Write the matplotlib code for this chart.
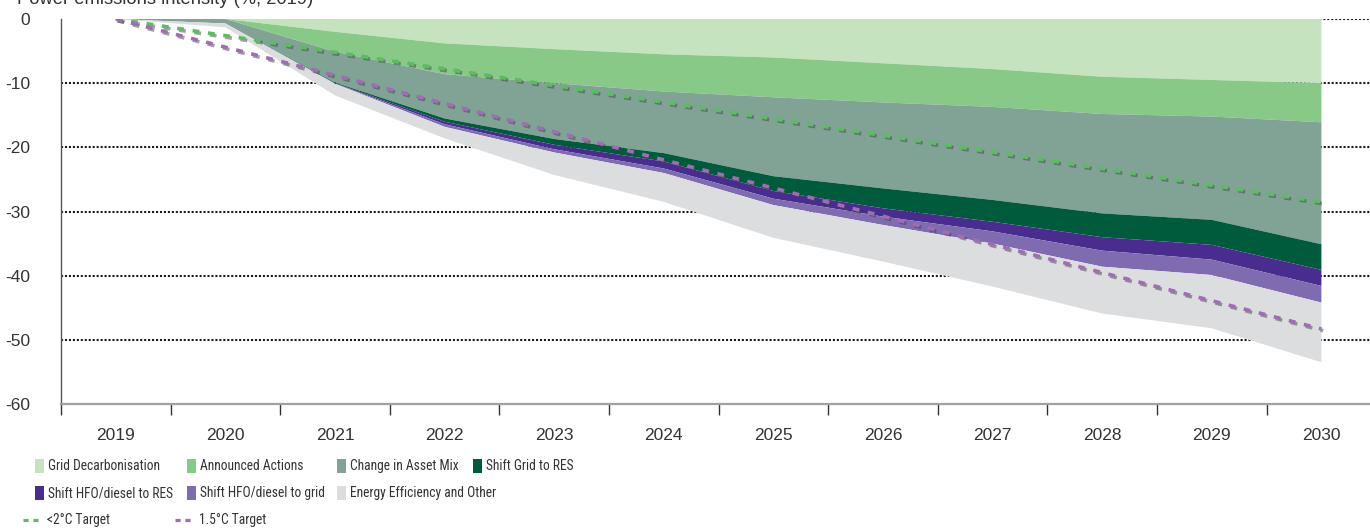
import matplotlib
matplotlib.use("Agg")
import matplotlib.pyplot as plt
import matplotlib.patheffects as pe
from matplotlib import font_manager
from matplotlib.patches import Rectangle
from matplotlib.lines import Line2D

# ---------------- data ----------------
years = ["2019", "2020", "2021", "2022", "2023", "2024", "2025",
         "2026", "2027", "2028", "2029", "2030"]

grid_decarbonisation = [0, 0, -2.0, -3.8, -4.7, -5.5, -6.0, -6.9, -7.8, -9.0, -9.5, -10.0]
announced_actions    = [0, 0, -3.1, -4.8, -5.3, -5.8, -6.2, -6.1, -5.9, -5.8, -5.7, -6.1]
change_asset_mix     = [0, -0.7, -4.8, -6.9, -8.7, -9.6, -12.3, -13.4, -14.5, -15.5, -16.1, -19.0]
shift_grid_res       = [0, 0, -0.1, -0.5, -0.9, -1.3, -2.3, -3.1, -3.4, -3.7, -3.9, -4.0]
shift_hfo_res        = [0, 0, -0.05, -0.4, -0.7, -1.1, -1.2, -1.3, -1.5, -2.1, -2.3, -2.5]
shift_hfo_grid       = [0, 0, -0.05, -0.4, -0.5, -0.7, -1.0, -1.3, -1.9, -2.5, -2.4, -2.6]
energy_efficiency    = [0, -0.6, -1.8, -1.8, -3.5, -4.5, -5.1, -5.7, -6.7, -7.3, -8.3, -9.3]

target_years = ["2019", "2030"]
target_2c  = [0, -28.5]
target_15c = [0, -48.3]

series_labels = ["Grid Decarbonisation", "Announced Actions", "Change in Asset Mix",
                 "Shift Grid to RES", "Shift HFO/diesel to RES",
                 "Shift HFO/diesel to grid", "Energy Efficiency and Other"]
series_colors = ["#c5e3bf", "#88c987", "#80a396", "#005a3c", "#482d8f", "#7f6bb0", "#dcdddf"]
line_labels = ["<2°C Target", "1.5°C Target"]
line_colors = ["#5dbb63", "#a06cb6"]

yticks = [0, -10, -20, -30, -40, -50, -60]
title = "Power emissions intensity (%, 2019)"

# ---------------- fonts ----------------
tick_font = ["Liberation Sans", "DejaVu Sans"]
leg_family = "Liberation Sans"
leg_stretch = "normal"
names = {f.name: f for f in font_manager.fontManager.ttflist}
for cand in ["Liberation Sans Narrow", "Arial Narrow", "Roboto Condensed",
             "Open Sans Condensed", "DejaVu Sans Condensed"]:
    if cand in names:
        leg_family = cand
        break
else:
    for f in font_manager.fontManager.ttflist:
        if f.name == "DejaVu Sans" and f.stretch in ("condensed", 75, "semi-condensed", 87):
            leg_family = "DejaVu Sans"
            leg_stretch = "condensed"
            break

# ---------------- figure ----------------
W, H = 1370, 528
fig = plt.figure(figsize=(W / 100, H / 100), dpi=100)
ax = fig.add_axes([61 / W, (H - 404) / H, (W - 61) / W, (404 - 19) / H])

x = list(range(len(years)))
xpos = {y: i for i, y in enumerate(years)}

# gridlines (behind areas)
for v in yticks[1:-1]:
    ax.axhline(v, color="#1a1a1a", lw=1.5, ls=(0, (1, 0.9)), zorder=0.5)
ax.axhline(0, xmin=0.55, xmax=1, color="#1a1a1a", lw=1.5, ls=(0, (1, 0.9)), zorder=0.5)

series = [grid_decarbonisation, announced_actions, change_asset_mix, shift_grid_res,
          shift_hfo_res, shift_hfo_grid, energy_efficiency]
ax.stackplot(x, *series, colors=series_colors, labels=series_labels, zorder=1,
             linewidth=0)

shadow = [pe.SimpleLineShadow(offset=(1.3, -1.3), shadow_color="#444444", alpha=0.5),
          pe.Normal()]
tx = [xpos[t] for t in target_years]
ax.plot(tx, target_2c, color=line_colors[0], lw=2.6, ls=(0, (1.9, 2.4)),
        dash_capstyle="butt", zorder=3, path_effects=shadow)
ax.plot(tx, target_15c, color=line_colors[1], lw=2.6, ls=(0, (1.9, 2.4)),
        dash_capstyle="butt", zorder=3, path_effects=shadow)

ax.set_ylim(-60, 0)
ax.set_xlim(-0.5, -0.5 + (W - 61) / 109.6)

for s in ["top", "right"]:
    ax.spines[s].set_visible(False)
ax.spines["left"].set_color("#555555")
ax.spines["left"].set_linewidth(1.0)
ax.spines["bottom"].set_color("#a0a0a0")
ax.spines["bottom"].set_linewidth(1.6)

ax.set_yticks(yticks)
ax.set_yticklabels([str(v) for v in yticks], fontsize=12.5, family=tick_font, color="#333333")
ax.tick_params(axis="y", length=0, pad=22)

ax.set_xticks(x)
ax.set_xticklabels(years, fontsize=12.5, family=tick_font, color="#333333")
ax.set_xticks([i - 0.5 for i in range(len(years))], minor=True)
ax.tick_params(axis="x", which="major", length=0, pad=17)
ax.tick_params(axis="x", which="minor", length=8, width=1.0, color="#333333")

# title (partially cut at the top as in reference)
fig.text(17 / W, 1 - 4 / H, title, fontsize=13.2, family=tick_font, color="#333333",
         va="baseline", ha="left")

# ---------------- legend (manual placement) ----------------
def fx(px):
    return px / W

def fy(py):
    return 1 - py / H

# fit legend font size to roughly the reference text widths
renderer = fig.canvas.get_renderer()
probe = fig.text(0, 0, series_labels[0], fontsize=10, family=leg_family,
                 fontstretch=leg_stretch)
w10 = probe.get_window_extent(renderer).width
probe.remove()
leg_size = min(11.0, 10 * 112.0 / w10)

sq_pos = [(35, 466), (187, 466), (337, 466), (473, 466),
          (35, 493), (187, 493), (337, 493)]
for (px, py), lab, col in zip(sq_pos, series_labels, series_colors):
    fig.add_artist(Rectangle((fx(px), fy(py + 7)), 9 / W, 14 / H,
                             transform=fig.transFigure, facecolor=col, edgecolor="none"))
    fig.text(fx(px + 13), fy(py), lab, fontsize=leg_size, family=leg_family,
             fontstretch=leg_stretch, color="#333333", va="center", ha="left")

ln_pos = [(23, 520), (175, 520)]
for (px, py), lab, col in zip(ln_pos, line_labels, line_colors):
    fig.add_artist(Line2D([fx(px), fx(px + 19)], [fy(py), fy(py)], transform=fig.transFigure,
                          color=col, lw=2.3, ls=(0, (1.6, 1.5)), dash_capstyle="butt"))
    fig.text(fx(px + 24), fy(py), lab, fontsize=leg_size, family=leg_family,
             fontstretch=leg_stretch, color="#333333", va="center", ha="left")

fig.savefig("out.png", dpi=100)
